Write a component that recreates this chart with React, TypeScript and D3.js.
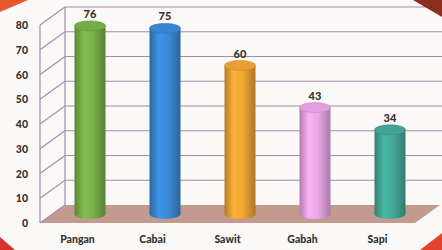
import React from 'react';
import * as d3 from 'd3';

const categories = ['Pangan', 'Cabai', 'Sawit', 'Gabah', 'Sapi'];
const values = [76, 75, 60, 43, 34];
const yTicks = [0, 10, 20, 30, 40, 50, 60, 70, 80];
const barColors = ['#78b24a', '#3a8ad6', '#f0a634', '#eaa6e6', '#45a99a'];

const W = 442;
const H = 250;
const DX = 25; // depth offset
const DY = -18;
const BAR_W = 31;
const RY = 5;

export default function App() {
  const x = d3.scalePoint<string>().domain(categories).range([40, 415]).padding(0.5);
  const y = d3.scaleLinear().domain([0, 80]).range([223, 25]);
  const grid = '#a48cae';
  const font = "Lato, 'Open Sans', sans-serif";

  const shade = (c: string, k: number) => d3.color(c)!.darker(k).formatHex();
  const light = (c: string, k: number) => d3.color(c)!.brighter(k).formatHex();

  return (
    <div style={{ position: 'fixed', left: 0, top: 0 }}>
      <svg width={W} height={H} style={{ display: 'block', background: '#fbf9f7' }}>
        <defs>
          {barColors.map((c, i) => (
            <linearGradient key={i} id={`cyl${i}`} x1="0" x2="1" y1="0" y2="0">
              <stop offset="0%" stopColor={shade(c, 0.8)} />
              <stop offset="30%" stopColor={light(c, 0.2)} />
              <stop offset="60%" stopColor={c} />
              <stop offset="100%" stopColor={shade(c, 0.9)} />
            </linearGradient>
          ))}
        </defs>

        {/* floor */}
        <polygon
          points={`${40},${y(0)} ${415},${y(0)} ${415 + DX},${y(0) + DY} ${40 + DX},${y(0) + DY}`}
          fill="#c29b8e"
        />

        {/* walls */}
        <line x1={40} x2={40} y1={y(0)} y2={y(80)} stroke={grid} strokeWidth={1.2} />
        <line x1={40 + DX} x2={40 + DX} y1={y(0) + DY} y2={y(80) + DY} stroke={grid} strokeWidth={1.2} />
        {yTicks.map((t) => (
          <g key={t}>
            <line x1={40} y1={y(t)} x2={40 + DX} y2={y(t) + DY} stroke={grid} strokeWidth={1.2} />
            {t > 0 && (
              <line x1={40 + DX} y1={y(t) + DY} x2={W} y2={y(t) + DY} stroke={grid} strokeWidth={1.2} />
            )}
            <text x={28} y={y(t) + 4} textAnchor="end" fontFamily={font} fontWeight={900} fontSize={10.5} fill="#333">
              {t}
            </text>
          </g>
        ))}

        {/* cylinders */}
        {categories.map((c, i) => {
          const cx = x(c)! + DX / 2;
          const yb = y(0) + DY / 2;
          const yt = y(values[i]) + DY / 2;
          const col = barColors[i];
          return (
            <g key={c}>
              <ellipse cx={cx} cy={yb} rx={BAR_W / 2} ry={RY} fill={`url(#cyl${i})`} />
              <rect x={cx - BAR_W / 2} y={yt} width={BAR_W} height={yb - yt} fill={`url(#cyl${i})`} />
              <ellipse cx={cx} cy={yt} rx={BAR_W / 2} ry={RY} fill={shade(col, 0.1)} stroke={shade(col, 0.5)} strokeWidth={0.6} />
              <text x={cx} y={yt - RY - 3} textAnchor="middle" fontFamily={font} fontWeight={900} fontSize={11} fill="#333">
                {values[i]}
              </text>
              <text x={x(c)!} y={243} textAnchor="middle" fontFamily={font} fontWeight={900} fontSize={10.5} fill="#333">
                {c}
              </text>
            </g>
          );
        })}

        {/* slide decorations */}
        <polygon points="0,0 28,0 0,12" fill="#e8582c" />
        <polygon points="413,0 442,0 442,17" fill="#8c2e1e" />
        <polygon points="0,237 15,250 0,250" fill="#d8322a" />
        <polygon points="420,250 442,233 442,250" fill="#e0432c" />
      </svg>
    </div>
  );
}
